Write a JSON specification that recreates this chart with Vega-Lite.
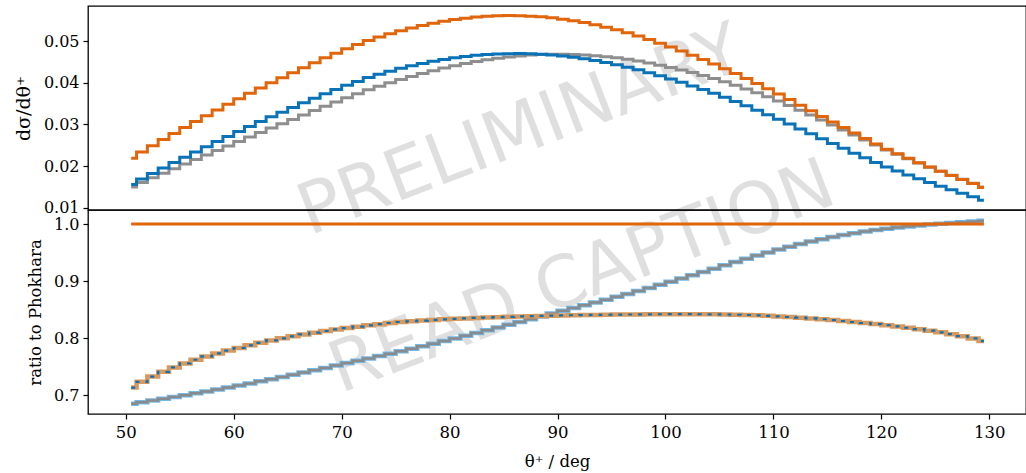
{
  "$schema": "https://vega.github.io/schema/vega-lite/v6.json",
  "padding": {"left": 13, "top": 5, "right": 0, "bottom": 0},
  "spacing": 0,
  "bounds": "flush",
  "config": {
    "font": "DejaVu Serif",
    "view": {"stroke": "#000000", "strokeWidth": 1.3},
    "axis": {
      "labelFont": "DejaVu Serif", "titleFont": "DejaVu Serif",
      "labelFontSize": 16, "titleFontSize": 16.5, "titleFontWeight": "normal",
      "labelColor": "#000000", "titleColor": "#000000", "tickColor": "#000000",
      "tickWidth": 1.2, "domain": false, "grid": false, "tickSize": 5, "labelPadding": 4, "titlePadding": 10
    }
  },
  "datasets": {
    "curves": [
      {"theta": 50.5, "O": 0.02190, "B": 0.01562, "G": 0.01500, "rB": 0.7134, "rG": 0.6850, "rO": 1.0},
      {"theta": 51.5, "O": 0.02342, "B": 0.01694, "G": 0.01611, "rB": 0.7234, "rG": 0.6878, "rO": 1.0},
      {"theta": 52.5, "O": 0.02492, "B": 0.01826, "G": 0.01721, "rB": 0.7326, "rG": 0.6907, "rO": 1.0},
      {"theta": 53.5, "O": 0.02640, "B": 0.01956, "G": 0.01831, "rB": 0.7410, "rG": 0.6937, "rO": 1.0},
      {"theta": 54.5, "O": 0.02786, "B": 0.02086, "G": 0.01941, "rB": 0.7487, "rG": 0.6968, "rO": 1.0},
      {"theta": 55.5, "O": 0.02930, "B": 0.02214, "G": 0.02051, "rB": 0.7557, "rG": 0.7000, "rO": 1.0},
      {"theta": 56.5, "O": 0.03072, "B": 0.02341, "G": 0.02161, "rB": 0.7621, "rG": 0.7033, "rO": 1.0},
      {"theta": 57.5, "O": 0.03212, "B": 0.02467, "G": 0.02270, "rB": 0.7679, "rG": 0.7066, "rO": 1.0},
      {"theta": 58.5, "O": 0.03350, "B": 0.02590, "G": 0.02379, "rB": 0.7732, "rG": 0.7100, "rO": 1.0},
      {"theta": 59.5, "O": 0.03485, "B": 0.02712, "G": 0.02487, "rB": 0.7781, "rG": 0.7135, "rO": 1.0},
      {"theta": 60.5, "O": 0.03618, "B": 0.02832, "G": 0.02594, "rB": 0.7827, "rG": 0.7170, "rO": 1.0},
      {"theta": 61.5, "O": 0.03748, "B": 0.02951, "G": 0.02701, "rB": 0.7874, "rG": 0.7206, "rO": 1.0},
      {"theta": 62.5, "O": 0.03876, "B": 0.03069, "G": 0.02807, "rB": 0.7918, "rG": 0.7243, "rO": 1.0},
      {"theta": 63.5, "O": 0.04001, "B": 0.03184, "G": 0.02913, "rB": 0.7959, "rG": 0.7280, "rO": 1.0},
      {"theta": 64.5, "O": 0.04121, "B": 0.03296, "G": 0.03016, "rB": 0.7997, "rG": 0.7318, "rO": 1.0},
      {"theta": 65.5, "O": 0.04239, "B": 0.03405, "G": 0.03119, "rB": 0.8032, "rG": 0.7357, "rO": 1.0},
      {"theta": 66.5, "O": 0.04362, "B": 0.03518, "G": 0.03227, "rB": 0.8065, "rG": 0.7397, "rO": 1.0},
      {"theta": 67.5, "O": 0.04482, "B": 0.03629, "G": 0.03333, "rB": 0.8096, "rG": 0.7437, "rO": 1.0},
      {"theta": 68.5, "O": 0.04598, "B": 0.03736, "G": 0.03438, "rB": 0.8125, "rG": 0.7478, "rO": 1.0},
      {"theta": 69.5, "O": 0.04709, "B": 0.03839, "G": 0.03541, "rB": 0.8152, "rG": 0.7520, "rO": 1.0},
      {"theta": 70.5, "O": 0.04816, "B": 0.03938, "G": 0.03642, "rB": 0.8177, "rG": 0.7563, "rO": 1.0},
      {"theta": 71.5, "O": 0.04918, "B": 0.04033, "G": 0.03739, "rB": 0.8201, "rG": 0.7603, "rO": 1.0},
      {"theta": 72.5, "O": 0.05016, "B": 0.04125, "G": 0.03834, "rB": 0.8224, "rG": 0.7643, "rO": 1.0},
      {"theta": 73.5, "O": 0.05099, "B": 0.04204, "G": 0.03919, "rB": 0.8245, "rG": 0.7685, "rO": 1.0},
      {"theta": 74.5, "O": 0.05175, "B": 0.04277, "G": 0.03999, "rB": 0.8265, "rG": 0.7727, "rO": 1.0},
      {"theta": 75.5, "O": 0.05247, "B": 0.04346, "G": 0.04077, "rB": 0.8283, "rG": 0.7770, "rO": 1.0},
      {"theta": 76.5, "O": 0.05312, "B": 0.04407, "G": 0.04150, "rB": 0.8296, "rG": 0.7813, "rO": 1.0},
      {"theta": 77.5, "O": 0.05372, "B": 0.04463, "G": 0.04221, "rB": 0.8308, "rG": 0.7858, "rO": 1.0},
      {"theta": 78.5, "O": 0.05426, "B": 0.04514, "G": 0.04288, "rB": 0.8319, "rG": 0.7903, "rO": 1.0},
      {"theta": 79.5, "O": 0.05474, "B": 0.04559, "G": 0.04351, "rB": 0.8329, "rG": 0.7949, "rO": 1.0},
      {"theta": 80.5, "O": 0.05516, "B": 0.04599, "G": 0.04410, "rB": 0.8338, "rG": 0.7995, "rO": 1.0},
      {"theta": 81.5, "O": 0.05548, "B": 0.04630, "G": 0.04462, "rB": 0.8346, "rG": 0.8042, "rO": 1.0},
      {"theta": 82.5, "O": 0.05574, "B": 0.04657, "G": 0.04509, "rB": 0.8354, "rG": 0.8089, "rO": 1.0},
      {"theta": 83.5, "O": 0.05593, "B": 0.04676, "G": 0.04551, "rB": 0.8361, "rG": 0.8137, "rO": 1.0},
      {"theta": 84.5, "O": 0.05605, "B": 0.04690, "G": 0.04588, "rB": 0.8368, "rG": 0.8185, "rO": 1.0},
      {"theta": 85.5, "O": 0.05610, "B": 0.04698, "G": 0.04619, "rB": 0.8374, "rG": 0.8234, "rO": 1.0},
      {"theta": 86.5, "O": 0.05607, "B": 0.04699, "G": 0.04644, "rB": 0.8380, "rG": 0.8282, "rO": 1.0},
      {"theta": 87.5, "O": 0.05597, "B": 0.04693, "G": 0.04663, "rB": 0.8385, "rG": 0.8332, "rO": 1.0},
      {"theta": 88.5, "O": 0.05580, "B": 0.04682, "G": 0.04677, "rB": 0.8390, "rG": 0.8381, "rO": 1.0},
      {"theta": 89.5, "O": 0.05556, "B": 0.04664, "G": 0.04684, "rB": 0.8394, "rG": 0.8431, "rO": 1.0},
      {"theta": 90.5, "O": 0.05525, "B": 0.04640, "G": 0.04685, "rB": 0.8398, "rG": 0.8480, "rO": 1.0},
      {"theta": 91.5, "O": 0.05487, "B": 0.04610, "G": 0.04679, "rB": 0.8401, "rG": 0.8528, "rO": 1.0},
      {"theta": 92.5, "O": 0.05442, "B": 0.04573, "G": 0.04667, "rB": 0.8404, "rG": 0.8576, "rO": 1.0},
      {"theta": 93.5, "O": 0.05391, "B": 0.04532, "G": 0.04650, "rB": 0.8407, "rG": 0.8625, "rO": 1.0},
      {"theta": 94.5, "O": 0.05333, "B": 0.04485, "G": 0.04626, "rB": 0.8410, "rG": 0.8674, "rO": 1.0},
      {"theta": 95.5, "O": 0.05269, "B": 0.04432, "G": 0.04597, "rB": 0.8412, "rG": 0.8724, "rO": 1.0},
      {"theta": 96.5, "O": 0.05198, "B": 0.04374, "G": 0.04561, "rB": 0.8414, "rG": 0.8775, "rO": 1.0},
      {"theta": 97.5, "O": 0.05121, "B": 0.04310, "G": 0.04520, "rB": 0.8416, "rG": 0.8827, "rO": 1.0},
      {"theta": 98.5, "O": 0.05039, "B": 0.04242, "G": 0.04475, "rB": 0.8418, "rG": 0.8880, "rO": 1.0},
      {"theta": 99.5, "O": 0.04950, "B": 0.04167, "G": 0.04422, "rB": 0.8419, "rG": 0.8934, "rO": 1.0},
      {"theta": 100.5, "O": 0.04856, "B": 0.04089, "G": 0.04365, "rB": 0.8420, "rG": 0.8989, "rO": 1.0},
      {"theta": 101.5, "O": 0.04762, "B": 0.04010, "G": 0.04307, "rB": 0.8420, "rG": 0.9045, "rO": 1.0},
      {"theta": 102.5, "O": 0.04662, "B": 0.03925, "G": 0.04243, "rB": 0.8420, "rG": 0.9102, "rO": 1.0},
      {"theta": 103.5, "O": 0.04558, "B": 0.03837, "G": 0.04175, "rB": 0.8419, "rG": 0.9160, "rO": 1.0},
      {"theta": 104.5, "O": 0.04450, "B": 0.03746, "G": 0.04102, "rB": 0.8417, "rG": 0.9218, "rO": 1.0},
      {"theta": 105.5, "O": 0.04338, "B": 0.03650, "G": 0.04024, "rB": 0.8414, "rG": 0.9276, "rO": 1.0},
      {"theta": 106.5, "O": 0.04222, "B": 0.03551, "G": 0.03941, "rB": 0.8410, "rG": 0.9334, "rO": 1.0},
      {"theta": 107.5, "O": 0.04102, "B": 0.03448, "G": 0.03852, "rB": 0.8405, "rG": 0.9391, "rO": 1.0},
      {"theta": 108.5, "O": 0.03980, "B": 0.03343, "G": 0.03760, "rB": 0.8399, "rG": 0.9447, "rO": 1.0},
      {"theta": 109.5, "O": 0.03856, "B": 0.03236, "G": 0.03664, "rB": 0.8391, "rG": 0.9501, "rO": 1.0},
      {"theta": 110.5, "O": 0.03730, "B": 0.03126, "G": 0.03563, "rB": 0.8381, "rG": 0.9553, "rO": 1.0},
      {"theta": 111.5, "O": 0.03597, "B": 0.03011, "G": 0.03454, "rB": 0.8370, "rG": 0.9603, "rO": 1.0},
      {"theta": 112.5, "O": 0.03462, "B": 0.02894, "G": 0.03341, "rB": 0.8358, "rG": 0.9650, "rO": 1.0},
      {"theta": 113.5, "O": 0.03327, "B": 0.02776, "G": 0.03225, "rB": 0.8345, "rG": 0.9694, "rO": 1.0},
      {"theta": 114.5, "O": 0.03193, "B": 0.02660, "G": 0.03108, "rB": 0.8331, "rG": 0.9735, "rO": 1.0},
      {"theta": 115.5, "O": 0.03059, "B": 0.02544, "G": 0.02990, "rB": 0.8316, "rG": 0.9773, "rO": 1.0},
      {"theta": 116.5, "O": 0.02926, "B": 0.02429, "G": 0.02870, "rB": 0.8300, "rG": 0.9808, "rO": 1.0},
      {"theta": 117.5, "O": 0.02793, "B": 0.02313, "G": 0.02748, "rB": 0.8283, "rG": 0.9840, "rO": 1.0},
      {"theta": 118.5, "O": 0.02662, "B": 0.02200, "G": 0.02627, "rB": 0.8265, "rG": 0.9869, "rO": 1.0},
      {"theta": 119.5, "O": 0.02535, "B": 0.02090, "G": 0.02508, "rB": 0.8246, "rG": 0.9895, "rO": 1.0},
      {"theta": 120.5, "O": 0.02409, "B": 0.01982, "G": 0.02389, "rB": 0.8226, "rG": 0.9918, "rO": 1.0},
      {"theta": 121.5, "O": 0.02298, "B": 0.01886, "G": 0.02284, "rB": 0.8205, "rG": 0.9939, "rO": 1.0},
      {"theta": 122.5, "O": 0.02189, "B": 0.01791, "G": 0.02180, "rB": 0.8182, "rG": 0.9958, "rO": 1.0},
      {"theta": 123.5, "O": 0.02082, "B": 0.01698, "G": 0.02077, "rB": 0.8157, "rG": 0.9975, "rO": 1.0},
      {"theta": 124.5, "O": 0.01979, "B": 0.01609, "G": 0.01977, "rB": 0.8130, "rG": 0.9991, "rO": 1.0},
      {"theta": 125.5, "O": 0.01877, "B": 0.01521, "G": 0.01878, "rB": 0.8101, "rG": 1.0006, "rO": 1.0},
      {"theta": 126.5, "O": 0.01779, "B": 0.01436, "G": 0.01783, "rB": 0.8070, "rG": 1.0020, "rO": 1.0},
      {"theta": 127.5, "O": 0.01683, "B": 0.01352, "G": 0.01689, "rB": 0.8034, "rG": 1.0033, "rO": 1.0},
      {"theta": 128.5, "O": 0.01587, "B": 0.01269, "G": 0.01594, "rB": 0.7994, "rG": 1.0045, "rO": 1.0},
      {"theta": 129.5, "O": 0.01491, "B": 0.01185, "G": 0.01499, "rB": 0.7949, "rG": 1.0056, "rO": 1.0}
    ],
    "wmTop": [{"theta": 86.6, "v": 0.0282, "label": "PRELIMINARY"}],
    "wmBottom": [{"theta": 92.3, "v": 0.905, "label": "READ CAPTION"}]
  },
  "vconcat": [
    {
      "width": 938,
      "height": 204,
      "layer": [
        {
          "data": {"name": "wmTop"},
          "mark": {"type": "text", "angle": 339, "font": "DejaVu Sans", "fontSize": 71, "color": "#000000", "opacity": 0.12, "align": "center", "baseline": "middle"},
          "encoding": {
            "x": {"field": "theta", "type": "quantitative", "scale": {"domain": [46.5, 133.4], "nice": false, "zero": false}, "axis": null},
            "y": {"field": "v", "type": "quantitative", "scale": {"domain": [0.0095, 0.0584], "nice": false, "zero": false},
                  "axis": {"values": [0.01, 0.02, 0.03, 0.04, 0.05], "format": ".2f", "title": "dσ/dθ⁺", "titleFontSize": 19}},
            "text": {"field": "label", "type": "nominal"}
          }
        },
        {
          "data": {"name": "curves"},
          "mark": {"type": "line", "interpolate": "step", "color": "#8e8e8e", "strokeWidth": 3},
          "encoding": {"x": {"field": "theta", "type": "quantitative"}, "y": {"field": "G", "type": "quantitative"}}
        },
        {
          "data": {"name": "curves"},
          "mark": {"type": "line", "interpolate": "step", "color": "#0a72b6", "strokeWidth": 3},
          "encoding": {"x": {"field": "theta", "type": "quantitative"}, "y": {"field": "B", "type": "quantitative"}}
        },
        {
          "data": {"name": "curves"},
          "mark": {"type": "line", "interpolate": "step", "color": "#e0650b", "strokeWidth": 3},
          "encoding": {"x": {"field": "theta", "type": "quantitative"}, "y": {"field": "O", "type": "quantitative"}}
        }
      ]
    },
    {
      "width": 938,
      "height": 204,
      "layer": [
        {
          "data": {"name": "wmBottom"},
          "mark": {"type": "text", "angle": 339, "font": "DejaVu Sans", "fontSize": 71, "color": "#000000", "opacity": 0.12, "align": "center", "baseline": "middle"},
          "encoding": {
            "x": {"field": "theta", "type": "quantitative", "scale": {"domain": [46.5, 133.4], "nice": false, "zero": false},
                  "axis": {"values": [50, 60, 70, 80, 90, 100, 110, 120, 130], "title": "θ⁺ / deg", "labelFontSize": 16.5, "labelPadding": 5, "titlePadding": 13}},
            "y": {"field": "v", "type": "quantitative", "scale": {"domain": [0.667, 1.0246], "nice": false, "zero": false},
                  "axis": {"values": [0.7, 0.8, 0.9, 1.0], "format": ".1f", "title": "ratio to Phokhara"}},
            "text": {"field": "label", "type": "nominal"}
          }
        },
        {
          "data": {"name": "curves"},
          "mark": {"type": "line", "interpolate": "step", "color": "#74b9e6", "strokeWidth": 4.5},
          "encoding": {"x": {"field": "theta", "type": "quantitative"}, "y": {"field": "rG", "type": "quantitative"}}
        },
        {
          "data": {"name": "curves"},
          "mark": {"type": "line", "interpolate": "step", "color": "#8a8a8a", "strokeWidth": 2.5},
          "encoding": {"x": {"field": "theta", "type": "quantitative"}, "y": {"field": "rG", "type": "quantitative"}}
        },
        {
          "data": {"name": "curves"},
          "mark": {"type": "line", "interpolate": "step", "color": "#e0650b", "strokeWidth": 3},
          "encoding": {"x": {"field": "theta", "type": "quantitative"}, "y": {"field": "rO", "type": "quantitative"}}
        },
        {
          "data": {"name": "curves"},
          "mark": {"type": "line", "interpolate": "step", "color": "#d8995e", "strokeWidth": 4.5},
          "encoding": {"x": {"field": "theta", "type": "quantitative"}, "y": {"field": "rB", "type": "quantitative"}}
        },
        {
          "data": {"name": "curves"},
          "mark": {"type": "line", "interpolate": "step", "color": "#0a72b6", "strokeWidth": 2.2, "strokeDash": [4, 6]},
          "encoding": {"x": {"field": "theta", "type": "quantitative"}, "y": {"field": "rB", "type": "quantitative"}}
        }
      ]
    }
  ]
}
